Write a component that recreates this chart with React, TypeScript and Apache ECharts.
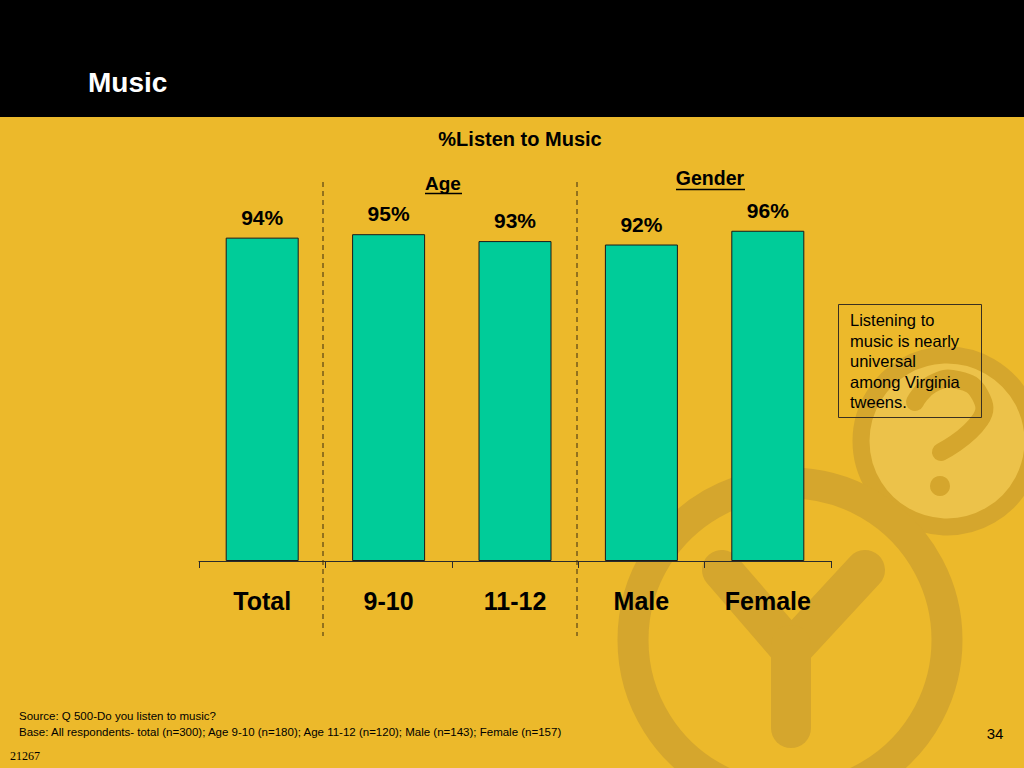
import React, { useEffect, useRef } from "react";
import * as echarts from "echarts";

const categories = ["Total", "9-10", "11-12", "Male", "Female"];
const values = [94, 95, 93, 92, 96];
const title = "Music";
const subtitle = "%Listen to Music";
const groupLabels = ["Age", "Gender"];
const noteLines = ["Listening to", "music is nearly", "universal", "among Virginia", "tweens."];
const sourceLines = [
  "Source: Q 500-Do you listen to music?",
  "Base: All respondents- total (n=300); Age 9-10 (n=180); Age 11-12 (n=120); Male (n=143); Female (n=157)",
];
const pageNo = "34";
const docId = "21267";

const FONT = "'Liberation Sans', Arial, sans-serif";
const BG = "#ECB92B";
const MARK = "#D5A62D";
const LIGHT = "#ECC24A";

export default function App() {
  const ref = useRef<HTMLDivElement>(null);
  useEffect(() => {
    document.body.style.margin = "0";
    const chart = echarts.init(ref.current!, undefined, { renderer: "svg" });
    const dashed = (x: number) => ({
      type: "line",
      z: 5,
      shape: { x1: x, y1: 182, x2: x, y2: 636 },
      style: { stroke: "#3a2a10", lineWidth: 1, lineDash: [5, 4] },
    });
    chart.setOption({
      animation: false,
      backgroundColor: BG,
      grid: { left: 199, right: 193, top: 217, bottom: 207 },
      xAxis: {
        type: "category",
        data: categories,
        axisLine: { lineStyle: { color: "#2b2b2b", width: 1 } },
        axisTick: { show: true, length: 7, lineStyle: { color: "#2b2b2b" } },
        axisLabel: {
          color: "#000",
          fontFamily: FONT,
          fontWeight: "bold",
          fontSize: 25,
          margin: 27,
        },
      },
      yAxis: { type: "value", min: 0, max: 100, show: false, splitLine: { show: false } },
      series: [
        {
          type: "bar",
          data: values,
          barWidth: 73,
          z: 3,
          itemStyle: { color: "#00CC99", borderColor: "#1a1a1a", borderWidth: 1 },
          label: {
            show: true,
            position: "top",
            distance: 10,
            formatter: "{c}%",
            color: "#000",
            fontFamily: FONT,
            fontWeight: "bold",
            fontSize: 21,
          },
        },
      ],
      graphic: [
        // watermark
        {
          type: "circle",
          z: -10,
          shape: { cx: 947, cy: 441, r: 86 },
          style: { fill: LIGHT, stroke: MARK, lineWidth: 17 },
        },
        {
          type: "polyline",
          z: -9,
          shape: { points: [[915, 402], [932, 384], [958, 380], [980, 395], [980, 420], [941, 452]], smooth: 0.5 },
          style: { stroke: MARK, lineWidth: 18, lineCap: "round", lineJoin: "round", fill: "none" },
        },
        {
          type: "circle",
          z: -9,
          shape: { cx: 940, cy: 486, r: 10 },
          style: { fill: MARK },
        },
        {
          type: "circle",
          z: -8,
          shape: { cx: 790, cy: 640, r: 157 },
          style: { fill: "none", stroke: MARK, lineWidth: 31 },
        },
        {
          type: "polyline",
          z: -8,
          shape: { points: [[722, 570], [791, 650], [865, 570]] },
          style: { stroke: MARK, lineWidth: 40, lineCap: "round", lineJoin: "round", fill: "none" },
        },
        {
          type: "line",
          z: -8,
          shape: { x1: 791, y1: 645, x2: 791, y2: 728 },
          style: { stroke: MARK, lineWidth: 40, lineCap: "round" },
        },
        // header
        { type: "rect", z: 1, shape: { x: 0, y: 0, width: 1024, height: 117 }, style: { fill: "#000" } },
        {
          type: "text",
          z: 2,
          x: 88,
          y: 82,
          style: { text: title, fill: "#fff", font: `bold 28px ${FONT}`, textVerticalAlign: "middle" },
        },
        {
          type: "text",
          z: 2,
          x: 520,
          y: 139,
          style: { text: subtitle, fill: "#000", font: `bold 20px ${FONT}`, textAlign: "center", textVerticalAlign: "middle" },
        },
        {
          type: "text",
          z: 2,
          x: 443,
          y: 183,
          style: { text: groupLabels[0], fill: "#000", font: `bold 19px ${FONT}`, textAlign: "center", textVerticalAlign: "middle" },
        },
        { type: "line", z: 2, shape: { x1: 425, y1: 193.5, x2: 462, y2: 193.5 }, style: { stroke: "#000", lineWidth: 1.5 } },
        {
          type: "text",
          z: 2,
          x: 710,
          y: 178,
          style: { text: groupLabels[1], fill: "#000", font: `bold 19.5px ${FONT}`, textAlign: "center", textVerticalAlign: "middle" },
        },
        { type: "line", z: 2, shape: { x1: 676, y1: 189.5, x2: 745, y2: 189.5 }, style: { stroke: "#000", lineWidth: 1.5 } },
        dashed(323),
        dashed(577),
        // note box
        {
          type: "rect",
          z: 2,
          shape: { x: 838.5, y: 304.5, width: 143, height: 113 },
          style: { fill: "none", stroke: "#3a3020", lineWidth: 1 },
        },
        {
          type: "text",
          z: 2,
          x: 850,
          y: 310,
          style: { text: noteLines.join("\n"), fill: "#000", font: `16.5px ${FONT}`, lineHeight: 20.5 },
        },
        // footer
        {
          type: "text",
          z: 2,
          x: 19,
          y: 708,
          style: { text: sourceLines.join("\n"), fill: "#000", font: `11.5px ${FONT}`, lineHeight: 16 },
        },
        {
          type: "text",
          z: 2,
          x: 995,
          y: 733,
          style: { text: pageNo, fill: "#000", font: `15px ${FONT}`, textAlign: "center", textVerticalAlign: "middle" },
        },
        {
          type: "text",
          z: 2,
          x: 10,
          y: 756,
          style: { text: docId, fill: "#000", font: `12px 'Liberation Serif', 'Times New Roman', serif`, textVerticalAlign: "middle" },
        },
      ],
    });
    return () => chart.dispose();
  }, []);
  return <div ref={ref} style={{ width: 1024, height: 768 }} />;
}
